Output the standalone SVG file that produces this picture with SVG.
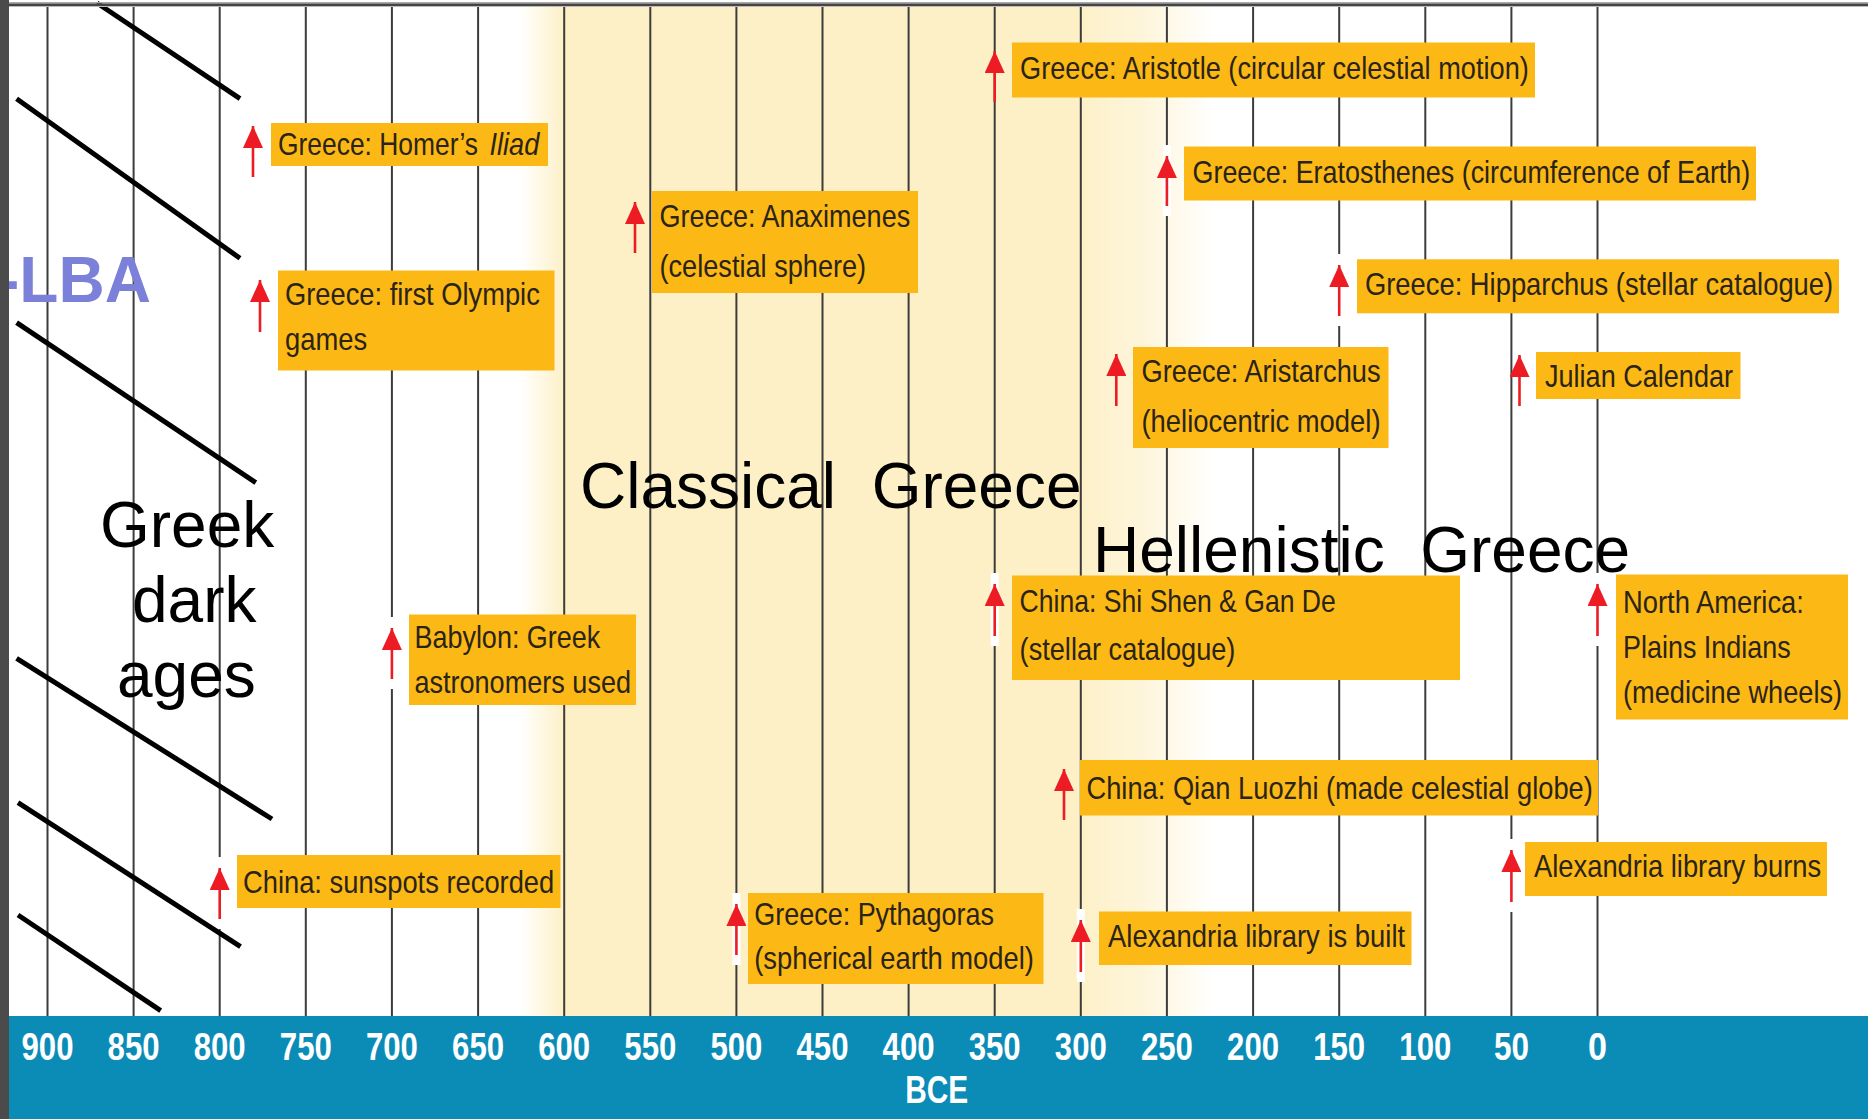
<svg xmlns="http://www.w3.org/2000/svg" width="1868" height="1119" viewBox="0 0 1868 1119">
<style>
.grid{stroke:#3c3c3c;stroke-width:2}
.halo{fill:#ffffff}
.hatch{stroke:#000;stroke-width:5;stroke-linecap:butt}
.box{fill:#fcb814}
.ev{font-family:"Liberation Sans",Arial,Helvetica,sans-serif;font-size:32px;fill:#2a2418}
.period{font-family:"Liberation Sans",Arial,Helvetica,sans-serif;font-size:64px;fill:#000}
.axis{font-family:"Liberation Sans",Arial,Helvetica,sans-serif;font-size:39px;font-weight:bold;fill:#fff;text-anchor:middle}
.arrow{stroke:#ed1c24;stroke-width:2.6;fill:none}
</style>
<defs>
<linearGradient id="shade" gradientUnits="userSpaceOnUse" x1="520" y1="0" x2="1214" y2="0">
<stop offset="0" stop-color="#fdf0c6" stop-opacity="0"/>
<stop offset="0.065" stop-color="#fdf0c6" stop-opacity="1"/>
<stop offset="0.8" stop-color="#fdf0c6" stop-opacity="1"/>
<stop offset="0.9" stop-color="#fdf1cc" stop-opacity="0.7"/>
<stop offset="1" stop-color="#fdf0c6" stop-opacity="0"/>
</linearGradient>
<marker id="head" markerUnits="userSpaceOnUse" markerWidth="22" markerHeight="20" viewBox="0 0 22 20" refX="22" refY="10" orient="auto">
<path d="M0,0 L22,10 L0,20 z" fill="#ed1c24"/>
</marker>
</defs>

<rect x="0" y="0" width="1868" height="1119" fill="#fff"/>
<rect x="520" y="5" width="694" height="1012" fill="url(#shade)"/>

<g id="grid">
<line class="grid" x1="47.5" y1="5" x2="47.5" y2="1016"/>
<line class="grid" x1="133.6" y1="5" x2="133.6" y2="1016"/>
<line class="grid" x1="219.7" y1="5" x2="219.7" y2="1016"/>
<line class="grid" x1="305.8" y1="5" x2="305.8" y2="1016"/>
<line class="grid" x1="391.9" y1="5" x2="391.9" y2="1016"/>
<line class="grid" x1="478.1" y1="5" x2="478.1" y2="1016"/>
<line class="grid" x1="564.2" y1="5" x2="564.2" y2="1016"/>
<line class="grid" x1="650.3" y1="5" x2="650.3" y2="1016"/>
<line class="grid" x1="736.4" y1="5" x2="736.4" y2="1016"/>
<line class="grid" x1="822.5" y1="5" x2="822.5" y2="1016"/>
<line class="grid" x1="908.6" y1="5" x2="908.6" y2="1016"/>
<line class="grid" x1="994.7" y1="5" x2="994.7" y2="1016"/>
<line class="grid" x1="1080.8" y1="5" x2="1080.8" y2="1016"/>
<line class="grid" x1="1166.9" y1="5" x2="1166.9" y2="1016"/>
<line class="grid" x1="1253.1" y1="5" x2="1253.1" y2="1016"/>
<line class="grid" x1="1339.2" y1="5" x2="1339.2" y2="1016"/>
<line class="grid" x1="1425.3" y1="5" x2="1425.3" y2="1016"/>
<line class="grid" x1="1511.4" y1="5" x2="1511.4" y2="1016"/>
<line class="grid" x1="1597.5" y1="5" x2="1597.5" y2="1016"/>
</g>

<g id="halos">
<rect class="halo" x="1162.9" y="145" width="8" height="71"/>
<rect class="halo" x="1335.2" y="254" width="8" height="72"/>
<rect class="halo" x="387.9" y="617" width="8" height="72"/>
<rect class="halo" x="990.7" y="573" width="8" height="73"/>
<rect class="halo" x="1593.5" y="573" width="8" height="73"/>
<rect class="halo" x="1507.4" y="839" width="8" height="73"/>
<rect class="halo" x="1076.8" y="909" width="8" height="73"/>
<rect class="halo" x="732.4" y="893" width="8" height="72"/>
<rect class="halo" x="215.7" y="857" width="8" height="72"/>
</g>

<g id="hatching">
<line class="hatch" x1="97" y1="3" x2="240" y2="98.7"/>
<line class="hatch" x1="16.6" y1="98.7" x2="240" y2="258.3"/>
<line class="hatch" x1="16.6" y1="322.7" x2="255.8" y2="482.7"/>
<line class="hatch" x1="16.6" y1="658.3" x2="272" y2="819"/>
<line class="hatch" x1="18" y1="802.7" x2="240.5" y2="946.7"/>
<line class="hatch" x1="18" y1="915" x2="160.7" y2="1010.7"/>
</g>

<g id="node-homer">
<rect class="box" x="271" y="123" width="277" height="43"/>
<text class="ev" transform="matrix(0.83 0 0 1 278 155)" textLength="241" lengthAdjust="spacingAndGlyphs">Greece: Homer’s</text>
<text class="ev" transform="matrix(0.83 0 0 1 489.5 155)" font-style="italic" textLength="60" lengthAdjust="spacingAndGlyphs">Iliad</text>
</g>
<g id="node-olympic">
<rect class="box" x="278" y="270.5" width="276.5" height="100"/>
<text class="ev" transform="matrix(0.83 0 0 1 285 305)" textLength="307" lengthAdjust="spacingAndGlyphs">Greece: first Olympic</text>
<text class="ev" transform="matrix(0.83 0 0 1 285 350)" textLength="99" lengthAdjust="spacingAndGlyphs">games</text>
</g>
<g id="node-anaximenes">
<rect class="box" x="652" y="191" width="266" height="102"/>
<text class="ev" transform="matrix(0.83 0 0 1 659.5 226.7)" textLength="302" lengthAdjust="spacingAndGlyphs">Greece: Anaximenes</text>
<text class="ev" transform="matrix(0.83 0 0 1 659.5 276.7)" textLength="249" lengthAdjust="spacingAndGlyphs">(celestial sphere)</text>
</g>
<g id="node-aristotle">
<rect class="box" x="1012" y="42.5" width="523" height="55"/>
<text class="ev" transform="matrix(0.83 0 0 1 1020 78.7)" textLength="613" lengthAdjust="spacingAndGlyphs">Greece: Aristotle (circular celestial motion)</text>
</g>
<g id="node-eratosthenes">
<rect class="box" x="1184" y="146.5" width="572" height="54"/>
<text class="ev" transform="matrix(0.83 0 0 1 1192.5 182.7)" textLength="672" lengthAdjust="spacingAndGlyphs">Greece: Eratosthenes (circumference of Earth)</text>
</g>
<g id="node-hipparchus">
<rect class="box" x="1357" y="259.3" width="482" height="54"/>
<text class="ev" transform="matrix(0.83 0 0 1 1365 295)" textLength="564" lengthAdjust="spacingAndGlyphs">Greece: Hipparchus (stellar catalogue)</text>
</g>
<g id="node-aristarchus">
<rect class="box" x="1133" y="347" width="255.5" height="101"/>
<text class="ev" transform="matrix(0.83 0 0 1 1141.5 381.7)" textLength="288" lengthAdjust="spacingAndGlyphs">Greece: Aristarchus</text>
<text class="ev" transform="matrix(0.83 0 0 1 1141.5 431.7)" textLength="288" lengthAdjust="spacingAndGlyphs">(heliocentric model)</text>
</g>
<g id="node-julian">
<rect class="box" x="1536" y="352" width="204.5" height="47"/>
<text class="ev" transform="matrix(0.83 0 0 1 1545 387)" textLength="226.5" lengthAdjust="spacingAndGlyphs">Julian Calendar</text>
</g>
<g id="node-babylon">
<rect class="box" x="409" y="614.5" width="227" height="90.5"/>
<text class="ev" transform="matrix(0.83 0 0 1 414.4 648.3)" textLength="224" lengthAdjust="spacingAndGlyphs">Babylon: Greek</text>
<text class="ev" transform="matrix(0.83 0 0 1 414.4 693.3)" textLength="261" lengthAdjust="spacingAndGlyphs">astronomers used</text>
</g>
<g id="node-shishen">
<rect class="box" x="1012" y="575.5" width="448" height="104.5"/>
<text class="ev" transform="matrix(0.83 0 0 1 1019.6 611.7)" textLength="381" lengthAdjust="spacingAndGlyphs">China: Shi Shen &amp; Gan De</text>
<text class="ev" transform="matrix(0.83 0 0 1 1019.6 660)" textLength="260" lengthAdjust="spacingAndGlyphs">(stellar catalogue)</text>
</g>
<g id="node-northamerica">
<rect class="box" x="1616" y="574.5" width="232" height="145"/>
<text class="ev" transform="matrix(0.83 0 0 1 1623 613.3)" textLength="218" lengthAdjust="spacingAndGlyphs">North America:</text>
<text class="ev" transform="matrix(0.83 0 0 1 1623 658.3)" textLength="202" lengthAdjust="spacingAndGlyphs">Plains Indians</text>
<text class="ev" transform="matrix(0.83 0 0 1 1623 703.3)" textLength="264" lengthAdjust="spacingAndGlyphs">(medicine wheels)</text>
</g>
<g id="node-qian">
<rect class="box" x="1080" y="760" width="518" height="55.5"/>
<text class="ev" transform="matrix(0.83 0 0 1 1086.5 799)" textLength="610" lengthAdjust="spacingAndGlyphs">China: Qian Luozhi (made celestial globe)</text>
</g>
<g id="node-alexburns">
<rect class="box" x="1525" y="842" width="302" height="54"/>
<text class="ev" transform="matrix(0.83 0 0 1 1534 876.7)" textLength="346" lengthAdjust="spacingAndGlyphs">Alexandria library burns</text>
</g>
<g id="node-alexbuilt">
<rect class="box" x="1099" y="911.5" width="312.5" height="53.5"/>
<text class="ev" transform="matrix(0.83 0 0 1 1108 946.7)" textLength="358" lengthAdjust="spacingAndGlyphs">Alexandria library is built</text>
</g>
<g id="node-pythagoras">
<rect class="box" x="748" y="893" width="295.5" height="91"/>
<text class="ev" transform="matrix(0.83 0 0 1 754.2 925)" textLength="289" lengthAdjust="spacingAndGlyphs">Greece: Pythagoras</text>
<text class="ev" transform="matrix(0.83 0 0 1 754.2 969.3)" textLength="337" lengthAdjust="spacingAndGlyphs">(spherical earth model)</text>
</g>
<g id="node-sunspots">
<rect class="box" x="237" y="855" width="323.5" height="53"/>
<text class="ev" transform="matrix(0.83 0 0 1 243 893.3)" textLength="375" lengthAdjust="spacingAndGlyphs">China: sunspots recorded</text>
</g>

<g id="connectors">
<line class="arrow" x1="253" y1="177" x2="253" y2="126" marker-end="url(#head)"/>
<line class="arrow" x1="260" y1="332" x2="260" y2="280" marker-end="url(#head)"/>
<line class="arrow" x1="635" y1="253" x2="635" y2="202" marker-end="url(#head)"/>
<line class="arrow" x1="994.7" y1="102" x2="994.7" y2="51" marker-end="url(#head)"/>
<line class="arrow" x1="1166.9" y1="206" x2="1166.9" y2="156" marker-end="url(#head)"/>
<line class="arrow" x1="1339.2" y1="316" x2="1339.2" y2="265" marker-end="url(#head)"/>
<line class="arrow" x1="1116.3" y1="406" x2="1116.3" y2="354" marker-end="url(#head)"/>
<line class="arrow" x1="1519.5" y1="406" x2="1519.5" y2="355" marker-end="url(#head)"/>
<line class="arrow" x1="391.9" y1="679" x2="391.9" y2="628" marker-end="url(#head)"/>
<line class="arrow" x1="994.7" y1="636" x2="994.7" y2="584" marker-end="url(#head)"/>
<line class="arrow" x1="1597.5" y1="636" x2="1597.5" y2="584" marker-end="url(#head)"/>
<line class="arrow" x1="1064" y1="820" x2="1064" y2="769" marker-end="url(#head)"/>
<line class="arrow" x1="1511.4" y1="902" x2="1511.4" y2="850" marker-end="url(#head)"/>
<line class="arrow" x1="1080.8" y1="972" x2="1080.8" y2="920" marker-end="url(#head)"/>
<line class="arrow" x1="736.4" y1="955" x2="736.4" y2="904" marker-end="url(#head)"/>
<line class="arrow" x1="219.7" y1="919" x2="219.7" y2="868" marker-end="url(#head)"/>
</g>

<g id="periods">
<text class="period" x="580" y="508.3" xml:space="preserve">Classical  Greece</text>
<text class="period" x="1093" y="571.7" xml:space="preserve">Hellenistic  Greece</text>
<text class="period" x="100" y="546.7">Greek</text>
<text class="period" x="132" y="621.7">dark</text>
<text class="period" x="117" y="696.7">ages</text>
</g>

<text id="lba" x="-2" y="301.5" font-family="'Liberation Sans',Arial,sans-serif" font-size="64" font-weight="bold" fill="#7b80d8">-LBA</text>

<g id="frame">
<rect x="0" y="0" width="9" height="1119" fill="#4b4b4b"/>
<rect x="9" y="2" width="1859" height="1.5" fill="#aaa"/>
<rect x="9" y="3.5" width="1859" height="2.5" fill="#444"/>
<rect x="9" y="6" width="1859" height="1" fill="#bbb"/>
</g>

<g id="axis">
<rect x="9" y="1016" width="1859" height="103" fill="#0b8cb6"/>
<text class="axis" x="47.5" y="1060" textLength="52" lengthAdjust="spacingAndGlyphs">900</text>
<text class="axis" x="133.6" y="1060" textLength="52" lengthAdjust="spacingAndGlyphs">850</text>
<text class="axis" x="219.7" y="1060" textLength="52" lengthAdjust="spacingAndGlyphs">800</text>
<text class="axis" x="305.8" y="1060" textLength="52" lengthAdjust="spacingAndGlyphs">750</text>
<text class="axis" x="391.9" y="1060" textLength="52" lengthAdjust="spacingAndGlyphs">700</text>
<text class="axis" x="478.1" y="1060" textLength="52" lengthAdjust="spacingAndGlyphs">650</text>
<text class="axis" x="564.2" y="1060" textLength="52" lengthAdjust="spacingAndGlyphs">600</text>
<text class="axis" x="650.3" y="1060" textLength="52" lengthAdjust="spacingAndGlyphs">550</text>
<text class="axis" x="736.4" y="1060" textLength="52" lengthAdjust="spacingAndGlyphs">500</text>
<text class="axis" x="822.5" y="1060" textLength="52" lengthAdjust="spacingAndGlyphs">450</text>
<text class="axis" x="908.6" y="1060" textLength="52" lengthAdjust="spacingAndGlyphs">400</text>
<text class="axis" x="994.7" y="1060" textLength="52" lengthAdjust="spacingAndGlyphs">350</text>
<text class="axis" x="1080.8" y="1060" textLength="52" lengthAdjust="spacingAndGlyphs">300</text>
<text class="axis" x="1166.9" y="1060" textLength="52" lengthAdjust="spacingAndGlyphs">250</text>
<text class="axis" x="1253.1" y="1060" textLength="52" lengthAdjust="spacingAndGlyphs">200</text>
<text class="axis" x="1339.2" y="1060" textLength="52" lengthAdjust="spacingAndGlyphs">150</text>
<text class="axis" x="1425.3" y="1060" textLength="52" lengthAdjust="spacingAndGlyphs">100</text>
<text class="axis" x="1511.4" y="1060" textLength="35" lengthAdjust="spacingAndGlyphs">50</text>
<text class="axis" x="1597.5" y="1060" textLength="19" lengthAdjust="spacingAndGlyphs">0</text>
<text class="axis" x="936.7" y="1103.3" font-size="38" textLength="63" lengthAdjust="spacingAndGlyphs">BCE</text>
</g>
</svg>
